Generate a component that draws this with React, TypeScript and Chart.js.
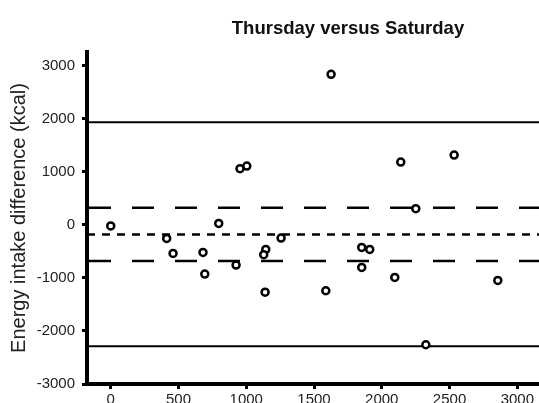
import React, { useEffect, useRef } from 'react';
import { Chart, registerables } from 'chart.js';

Chart.register(...registerables);

const chartTitle = 'Thursday versus Saturday';
const yAxisTitle = 'Energy intake difference (kcal)';

// x: mean energy intake of the two days, y: difference (kcal)
const meanIntake = [0, 954, 1004, 2140, 2534, 2251, 797, 413, 460, 681, 694, 925, 1144, 1129, 1257, 1139, 1587, 1852, 1911, 1852, 2096, 2856, 1626, 2325];
const intakeDiff = [-20, 1060, 1109, 1185, 1317, 306, 28, -255, -538, -519, -928, -758, -462, -562, -249, -1268, -1242, -425, -462, -802, -991, -1047, 2840, -2260];

const xTicks = [0, 500, 1000, 1500, 2000, 2500, 3000];
const yTicks = [-3000, -2000, -1000, 0, 1000, 2000, 3000];

const xRange = [-175, 3160];
const yRange = [-3000, 3260];

const meanDiff = -179;
const innerLimits = [325, -683];
const outerLimits = [1934, -2287];

const hLine = (v: number) => [
  { x: xRange[0], y: v },
  { x: xRange[1], y: v },
];

export default function App() {
  const ref = useRef<HTMLCanvasElement>(null);

  useEffect(() => {
    document.body.style.margin = '0';
    document.body.style.overflow = 'hidden';
    const canvas = ref.current;
    if (!canvas) return;

    const titlePlugin = {
      id: 'customTitle',
      afterDraw(chart: any) {
        const ctx = chart.ctx;
        ctx.save();
        ctx.font = 'bold 18.5px "Liberation Sans", Arial, sans-serif';
        ctx.fillStyle = '#111';
        ctx.textAlign = 'center';
        ctx.textBaseline = 'alphabetic';
        ctx.fillText(chartTitle, 348, 34);
        ctx.restore();
      },
    };

    const lineDs = (v: number, dash: number[], width: number, offset = 0) => ({
      type: 'line' as const,
      data: hLine(v),
      borderColor: '#000',
      borderWidth: width,
      borderDash: dash,
      borderDashOffset: offset,
      pointRadius: 0,
      fill: false,
      order: 2,
    });

    const chart = new Chart(canvas, {
      type: 'scatter',
      data: {
        datasets: [
          {
            type: 'scatter',
            data: meanIntake.map((x, i) => ({ x, y: intakeDiff[i] })),
            pointStyle: 'circle',
            pointRadius: 3.5,
            pointBorderWidth: 2.5,
            pointBorderColor: '#000',
            pointBackgroundColor: '#fff',
            order: 0,
          } as any,
          lineDs(outerLimits[0], [], 2),
          lineDs(outerLimits[1], [], 2),
          lineDs(innerLimits[0], [22, 21], 2.5, 41),
          lineDs(innerLimits[1], [22, 21], 2.5, 41),
          lineDs(meanDiff, [8, 7], 2.5),
        ],
      },
      options: {
        responsive: false,
        animation: false,
        layout: { autoPadding: false, padding: { top: 52, left: 0, right: 0, bottom: 0 } },
        plugins: {
          legend: { display: false },
          tooltip: { enabled: false },
          title: { display: false },
        },
        scales: {
          x: {
            type: 'linear',
            min: xRange[0],
            max: xRange[1],
            afterBuildTicks: (s: any) => {
              s.ticks = xTicks.map((v) => ({ value: v }));
            },
            afterFit: (s: any) => {
              s.height = 19;
              s.paddingLeft = 0;
              s.paddingRight = 0;
            },
            border: { display: true, color: '#000', width: 4 },
            grid: {
              display: true,
              drawOnChartArea: false,
              drawTicks: true,
              tickLength: 5,
              tickWidth: 3,
              tickColor: '#000',
            },
            ticks: {
              color: '#222',
              padding: 2,
              maxRotation: 0,
              autoSkip: false,
              font: { family: '"Liberation Sans", Arial, sans-serif', size: 15 },
              callback: (v: any) => String(v),
            },
          },
          y: {
            type: 'linear',
            min: yRange[0],
            max: yRange[1],
            afterBuildTicks: (s: any) => {
              s.ticks = yTicks.map((v) => ({ value: v }));
            },
            afterFit: (s: any) => {
              s.width = 87;
              s.paddingTop = 0;
              s.paddingBottom = 0;
            },
            border: { display: true, color: '#000', width: 4 },
            grid: {
              display: true,
              drawOnChartArea: false,
              drawTicks: true,
              tickLength: 5,
              tickWidth: 3,
              tickColor: '#000',
            },
            ticks: {
              color: '#222',
              padding: 7,
              autoSkip: false,
              font: { family: '"Liberation Sans", Arial, sans-serif', size: 15 },
              callback: (v: any) => String(v),
            },
            title: {
              display: true,
              text: yAxisTitle,
              color: '#222',
              padding: { top: 7, bottom: 0 },
              font: { family: '"Liberation Sans", Arial, sans-serif', size: 20 },
            },
          },
        },
      },
      plugins: [titlePlugin],
    });

    return () => chart.destroy();
  }, []);

  return (
    <div style={{ width: 539, height: 403, position: 'relative', background: '#fff' }}>
      <canvas ref={ref} width={539} height={403} />
    </div>
  );
}
